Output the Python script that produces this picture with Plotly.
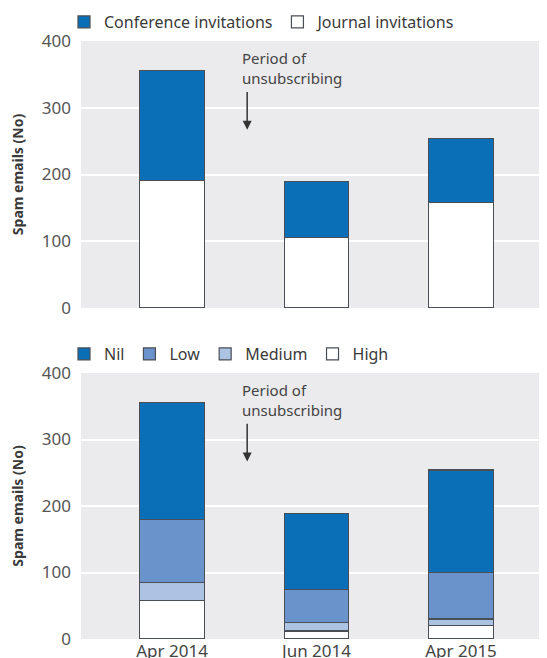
import plotly.graph_objects as go
from plotly.subplots import make_subplots

categories = ["Apr 2014", "Jun 2014", "Apr 2015"]
# Top panel
journal = [191, 106, 158]
conference = [165, 84, 96]
# Bottom panel (stacked bottom to top: High, Medium, Low, Nil)
high = [58, 12, 20]
medium = [27, 13, 10]
low = [95, 50, 70]
nil = [176, 114, 154]

tick_vals = [0, 100, 200, 300, 400]

FONT = "Noto Sans"
TXT = "#3a3a3a"
BLUE = "#0b6fb8"
LOWC = "#6a93cb"
MEDC = "#adc3e4"
WHITE = "#ffffff"
EDGE = "#4a4f55"
BG = "#ebebee"

fig = make_subplots(rows=2, cols=1, vertical_spacing=0.0)

def add_bar(y, name, color, row, legend):
    fig.add_trace(go.Bar(x=categories, y=y, name=name, marker=dict(color=color, line=dict(color=EDGE, width=1.2)),
                         legend=legend, showlegend=True), row=row, col=1)

# top: journal bottom, conference top
add_bar(journal, "Journal invitations", WHITE, 1, "legend")
add_bar(conference, "Conference invitations", BLUE, 1, "legend")
# bottom
add_bar(high, "High", WHITE, 2, "legend2")
add_bar(medium, "Medium", MEDC, 2, "legend2")
add_bar(low, "Low", LOWC, 2, "legend2")
add_bar(nil, "Nil", BLUE, 2, "legend2")

# page body has an 8px margin: figure sized to fit the window
W, H = 539, 650
OFF = 8
t, b = 41 - OFF, 19
ph = H - t - b
bottom_px = H - b
top_dom = [(bottom_px - (308 - OFF)) / ph, 1.0]
bot_dom = [0.0, (bottom_px - (373 - OFF)) / ph]

leg_common = dict(orientation="h", xref="container", yref="container", xanchor="left", yanchor="middle",
                  traceorder="reversed", font=dict(size=16, color=TXT), bgcolor="rgba(0,0,0,0)",
                  itemclick=False, itemdoubleclick=False)

fig.update_layout(
    width=W, height=H,
    margin=dict(l=81 - OFF, r=0, t=t, b=b, autoexpand=False),
    barmode="stack", bargap=0.553,
    paper_bgcolor="white", plot_bgcolor=BG,
    font=dict(family=FONT, size=15, color=TXT),
    legend=dict(x=56 / W, y=1 - (22 - OFF) / H, **leg_common),
    legend2=dict(x=56 / W, y=1 - (354 - OFF) / H, **leg_common),
)

for r, dom in [(1, top_dom), (2, bot_dom)]:
    fig.update_yaxes(row=r, col=1, domain=dom, range=[0, 400], tickvals=tick_vals,
                     showgrid=True, gridcolor="white", gridwidth=2, zeroline=False,
                     showline=False, ticks="", ticklabelstandoff=9,
                     tickfont=dict(size=17, color="#555555"),
                     title=dict(text="<b>Spam emails (No)</b>", font=dict(size=14, color=TXT), standoff=16),
                     automargin=False, fixedrange=True)
    fig.update_xaxes(row=r, col=1, range=[-0.63, 2.595], showgrid=False, zeroline=False, showline=False,
                     ticks="", automargin=False, fixedrange=True,
                     tickfont=dict(size=17, color="#444444"))
fig.update_xaxes(row=1, col=1, showticklabels=False)

# annotations: text + arrow on each panel
for xr, yr in [("x", "y"), ("x2", "y2")]:
    fig.add_annotation(x=0.47, y=392, xref=xr, yref=yr, text="Period of<br>unsubscribing",
                       showarrow=False, xanchor="left", yanchor="top", align="left",
                       font=dict(size=15, color="#444444"))
    fig.add_annotation(x=0.52, y=267, ax=0.52, ay=326, xref=xr, yref=yr, axref=xr, ayref=yr,
                       text="", showarrow=True, arrowhead=2, arrowsize=1.2, arrowwidth=1.5,
                       arrowcolor="#333333")

fig.write_html("out.html")
